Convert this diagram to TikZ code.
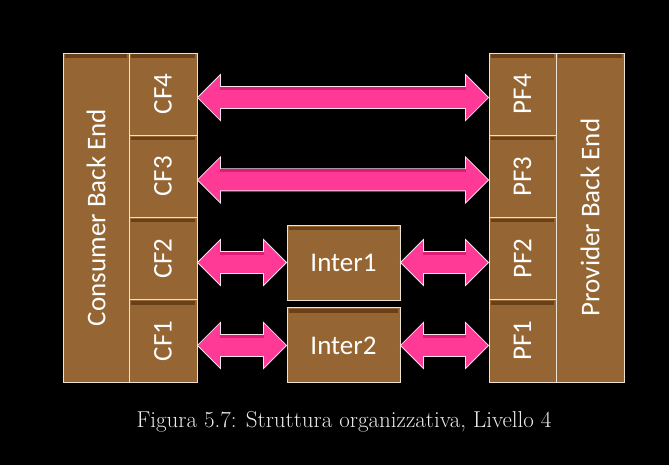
\documentclass[tikz,border=0pt]{standalone}
\usepackage{fontspec}
\usepackage{graphicx}
\newfontfamily\boxfont{Carlito}
\usetikzlibrary{positioning,calc}
\definecolor{boxbrown}{RGB}{149,101,52}
\definecolor{boxdark}{RGB}{104,64,26}
\definecolor{boxline}{RGB}{236,226,212}
\definecolor{arrowpink}{RGB}{255,58,150}
\definecolor{arrowdark}{RGB}{222,30,118}
\definecolor{arrowrim}{RGB}{250,225,238}
\definecolor{captiongray}{RGB}{235,235,235}
\tikzset{
  box/.style={draw=boxline, line width=0.9pt, fill=boxbrown, inner sep=0pt, text=white,
    font=\boxfont\fontsize{27}{32}\selectfont,
    path picture={\fill[boxdark] ([xshift=2pt,yshift=-1.5pt]path picture bounding box.north west)
      rectangle ([xshift=-2pt,yshift=-5pt]path picture bounding box.north east);}},
  link/.style={fill=arrowpink, draw=arrowrim, line width=0.8pt, line join=miter},
}
\newcommand\linkarrow[2]{% double arrow from #1 to #2
  \draw[link] (#1) -- ($(#1)+(23,-23)$) -- ($(#1)+(23,-11)$) -- ($(#2)+(-23,-11)$)
    -- ($(#2)+(-23,-23)$) -- (#2) -- ($(#2)+(-23,23)$) -- ($(#2)+(-23,11)$)
    -- ($(#1)+(23,11)$) -- ($(#1)+(23,23)$) -- cycle;
  \fill[arrowdark] ($(#1)+(23,-10.4)$) rectangle ($(#2)+(-23,-7.5)$);}
\begin{document}
\begin{tikzpicture}[x=1pt,y=-1pt]
  \fill[black] (0,0) rectangle (669,465); % background and margins
  \useasboundingbox (0,0) rectangle (669,465);

  % back ends
  \node[box, minimum width=66pt, minimum height=329pt] (cbe) at (96,217.5) {\rotatebox{90}{Consumer Back End}};
  \node[box, minimum width=68pt, minimum height=329pt] (pbe) at (590,217.5) {\rotatebox{90}{Provider Back End}};

  \foreach \i/\y in {4/94.1,3/176.4,2/258.6,1/340.9}{% the two columns of front ends
    \node[box, minimum width=68pt, minimum height=82.25pt] (cf\i) at (163,\y) {\rotatebox{90}{CF\i}};
    \node[box, minimum width=67pt, minimum height=82.25pt] (pf\i) at (522.5,\y) {\rotatebox{90}{PF\i}};
  }

  % intermediaries
  \node[box, minimum width=113pt, minimum height=75pt] (inter1) at (343.5,262.5) {Inter1};
  \node[box, minimum width=113pt, minimum height=75pt, below=7pt of inter1] (inter2) {Inter2};

  % arrow ends
  \coordinate (c4) at ([yshift=-3.5pt]cf4.east);
  \coordinate (p4) at ([yshift=-3.5pt]pf4.west);
  \coordinate (c3) at ([yshift=-3.5pt]cf3.east);
  \coordinate (p3) at ([yshift=-3.5pt]pf3.west);
  \coordinate (c2) at (cf2.east |- inter1.west);
  \coordinate (p2) at (pf2.west |- inter1.east);
  \coordinate (c1) at (cf1.east |- inter2.west);
  \coordinate (p1) at (pf1.west |- inter2.east);

  \linkarrow{c4}{p4}
  \linkarrow{c3}{p3}
  \linkarrow{c2}{inter1.west}
  \linkarrow{inter1.east}{p2}
  \linkarrow{c1}{inter2.west}
  \linkarrow{inter2.east}{p1}

  \node[text=captiongray, font=\fontsize{23}{28}\selectfont] (caption) at (344,422) {Figura 5.7: Struttura organizzativa, Livello 4};
\end{tikzpicture}
\end{document}
